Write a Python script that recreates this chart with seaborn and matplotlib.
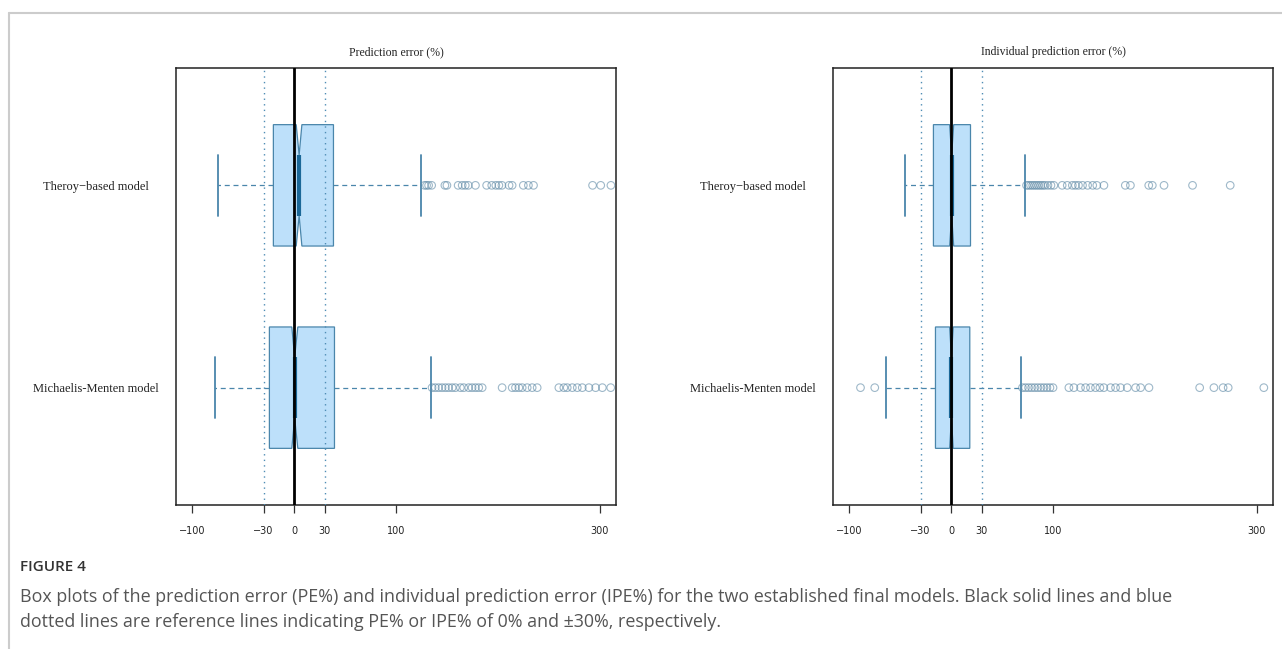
# -*- coding: utf-8 -*-
"""
Box plots of PE% and IPE% for the two final models (Figure 4)
"""

import pandas as pd
import matplotlib
matplotlib.use("Agg")
import matplotlib.pyplot as plt
from matplotlib.lines import Line2D
import seaborn as sns

#%%
# values

models = ["Theroy\u2212based model", "Michaelis-Menten model"]
panel_titles = ["Prediction error (%)", "Individual prediction error (%)"]
x_ticks = [-100, -30, 0, 30, 100, 300]
x_tick_labels = ["\u2212100", "\u221230", "0", "30", "100", "300"]

# [lower whisker, Q1, median, Q3, upper whisker] and notch [lo, hi]
pe_theory = [-74.4, -20.4, 4.9, 38.6, 124.9]
pe_theory_notch = [2.0, 7.6]
pe_mm = [-77.7, -24.3, 0.5, 39.6, 134.4]
pe_mm_notch = [-2.3, 3.6]
ipe_theory = [-45.0, -17.4, 0.5, 19.0, 72.8]
ipe_theory_notch = [-1.5, 2.5]
ipe_mm = [-63.6, -15.4, 0.3, 18.3, 69.0]
ipe_mm_notch = [-1.5, 2.0]

# outliers
pe_theory_out = [128, 130, 132, 135, 148, 150, 161, 165, 168, 171, 178, 189,
                 194, 198, 201, 204, 211, 214, 225, 230, 235, 293, 301, 311]
pe_mm_out = [135.4, 138.6, 141.9, 145.2, 148.5, 151.7, 155.1, 158.3, 163.2,
             166.5, 171.4, 174.7, 178, 181.2, 184.6, 204.2, 214.1, 217.3,
             220.6, 223.9, 228.8, 233.7, 238.6, 259.9, 264.8, 268.1, 273.1,
             278, 282.9, 289.4, 296, 302.6, 310.8]
ipe_theory_out = [74, 76, 78, 80, 82, 84, 86, 88, 90, 92, 95, 98, 100.8, 109,
                  114, 119, 122, 125, 129, 134, 139, 143, 150, 171, 176, 194,
                  197.5, 209, 237, 274]
ipe_mm_out = [-89, -75, 70, 73, 76, 79, 82, 85, 88, 91, 94, 97, 100, 115.6,
              120.5, 127, 132, 136.8, 141.7, 146, 149.9, 156.5, 161.4, 166.3,
              172.9, 181.1, 186, 194.2, 244, 258, 267, 272, 307]

#%%
# styling

sns.set_style("ticks")
plt.rcParams['font.family'] = ['Liberation Serif', 'DejaVu Serif']

box_edge = '#4a86ab'
box_face = '#bde0fa'
ref_blue = '#4f8db5'
out_col = '#5f8aa6'


def make_stats(five, notch):
    return dict(whislo=five[0], q1=five[1], med=five[2], q3=five[3],
                whishi=five[4], cilo=notch[0], cihi=notch[1], fliers=[])


panels = [
    ([make_stats(pe_theory, pe_theory_notch), make_stats(pe_mm, pe_mm_notch)],
     [pe_theory_out, pe_mm_out]),
    ([make_stats(ipe_theory, ipe_theory_notch), make_stats(ipe_mm, ipe_mm_notch)],
     [ipe_theory_out, ipe_mm_out]),
]
positions = [2, 1]

W, H = 1282, 649
fig = plt.figure(figsize=(W / 100, H / 100), dpi=100)

ax_left = [176, 833]
for i, (stats, outs) in enumerate(panels):
    ax = fig.add_axes([ax_left[i] / W, 1 - 505 / H, 440 / W, 437 / H])

    ax.bxp(stats, positions=positions, widths=0.6, orientation='horizontal',
           patch_artist=True, shownotches=True, showfliers=False,
           manage_ticks=False,
           boxprops=dict(facecolor=box_face, edgecolor=box_edge, linewidth=0.9),
           whiskerprops=dict(color=box_edge, linestyle=(0, (4, 3)), linewidth=0.9),
           capprops=dict(color=box_edge, linewidth=1.3),
           medianprops=dict(color='#1b6898', linewidth=3))

    df_out = pd.DataFrame({
        'value': outs[0] + outs[1],
        'pos': [positions[0]] * len(outs[0]) + [positions[1]] * len(outs[1]),
    })
    sns.scatterplot(data=df_out, x='value', y='pos', ax=ax, marker='o',
                    s=30, facecolor='none', edgecolor=out_col,
                    linewidth=0.8, alpha=0.6, legend=False, zorder=3)

    # reference lines
    ax.axvline(0, color='black', linewidth=2.0, zorder=5)
    for v in (-30, 30):
        ax.axvline(v, color=ref_blue, linewidth=1.0, linestyle=(0, (1, 3)),
                   zorder=5)

    ax.set_xlim(-116, 316)
    ax.set_ylim(0.42, 2.58)
    ax.set_xlabel('')
    ax.set_ylabel('')

    ax.set_xticks(x_ticks)
    ax.set_xticklabels(x_tick_labels,
                       fontfamily=['Liberation Sans Narrow', 'DejaVu Sans'],
                       fontsize=7)
    ax.tick_params(axis='x', bottom=True, direction='out', length=6, width=0.9,
                   color='#333333', pad=9, labelcolor='#222222')

    ax.set_yticks(positions)
    ax.set_yticklabels(models, fontsize=9, ha='center', color='#222222')
    ax.tick_params(axis='y', left=False, length=0, pad=58)

    for sp in ax.spines.values():
        sp.set_visible(True)
        sp.set_color('#222222')
        sp.set_linewidth(1.1)

    ax.set_title(panel_titles[i], fontsize=8.5, pad=9, color='#222222')

#%%
# page frame and caption

fig.add_artist(Line2D([9 / W, 9 / W], [0, 1 - 13 / H], transform=fig.transFigure,
                      color='#cccccc', linewidth=1.5))
fig.add_artist(Line2D([9 / W, 1], [1 - 13 / H, 1 - 13 / H],
                      transform=fig.transFigure, color='#cccccc', linewidth=1.5))

cap_font = ['Open Sans', 'DejaVu Sans']
fig.text(20 / W, 1 - 567 / H, "FIGURE 4", fontfamily=cap_font, fontsize=11,
         fontweight='semibold', color='#333333', va='center')
fig.text(20 / W, 1 - 597 / H,
         "Box plots of the prediction error (PE%) and individual prediction error "
         "(IPE%) for the two established final models. Black solid lines and blue",
         fontfamily=cap_font, fontsize=12.9, color='#555555', va='center')
fig.text(20 / W, 1 - 622 / H,
         "dotted lines are reference lines indicating PE% or IPE% of 0% and "
         "\u00b130%, respectively.",
         fontfamily=cap_font, fontsize=12.9, color='#555555', va='center')

fig.savefig("out.png", dpi=100)
